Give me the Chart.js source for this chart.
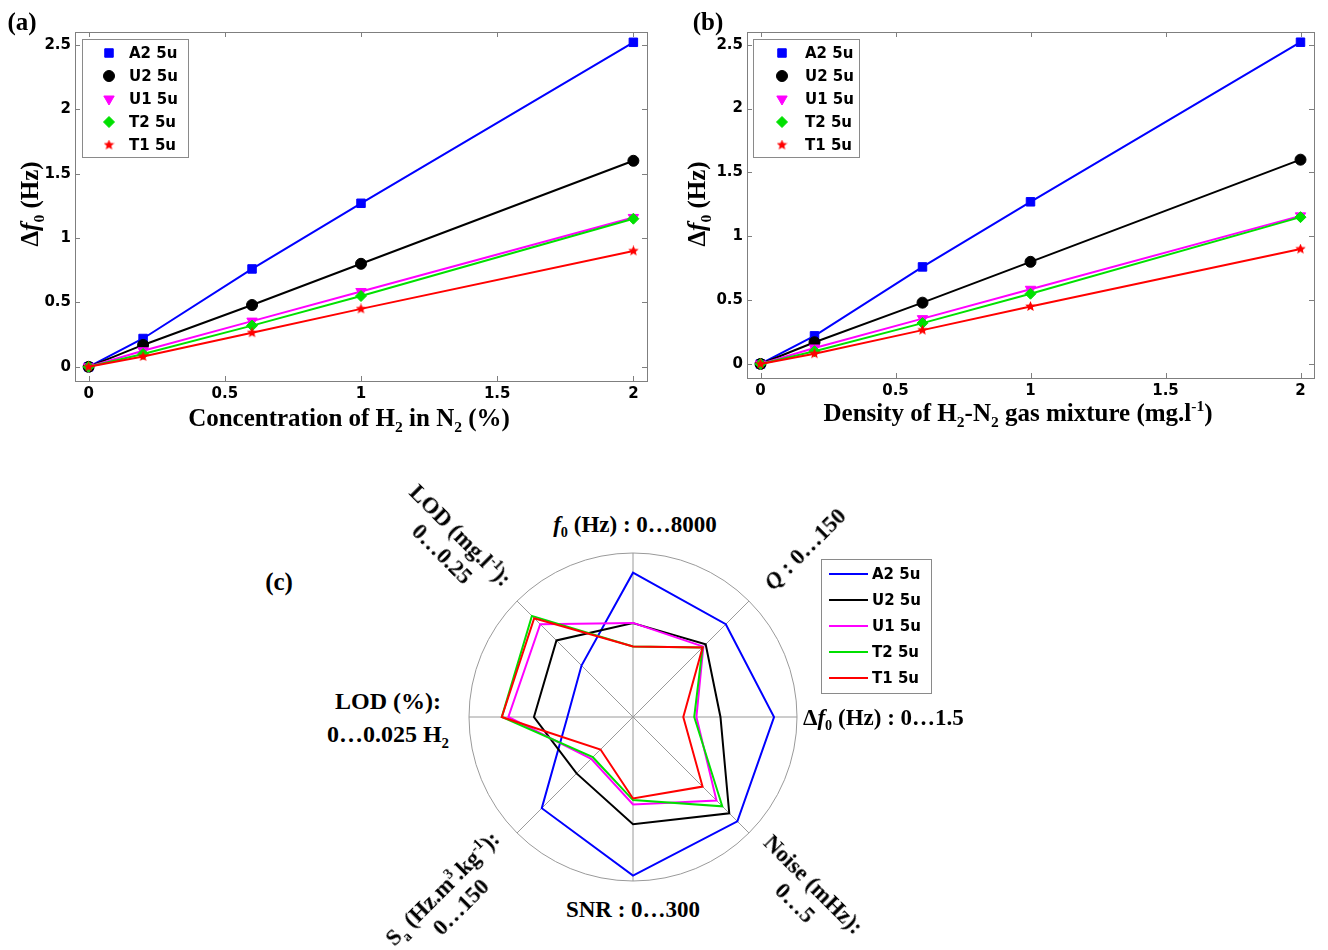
<!DOCTYPE html>
<html>
<head>
<meta charset="utf-8">
<script src="https://cdn.jsdelivr.net/npm/chart.js@4.4.1/dist/chart.umd.min.js"></script>
<style>
  body { margin: 0; background: #fff; }
  #page { position: relative; width: 1328px; height: 950px; overflow: hidden; background: #fff;
          font-family: "Liberation Serif", "Times New Roman", serif; color: #000; }
  canvas { position: absolute; }
  .t { position: absolute; font-weight: bold; font-size: 25px; white-space: nowrap; line-height: 1;
       transform: translate(-50%, -50%); text-align: center; }
  .t sub, .t sup { font-size: 0.62em; line-height: 0; }
</style>
</head>
<body>
<div id="page">
  <canvas id="chartA" width="660" height="440" style="left:0;top:0"></canvas>
  <canvas id="chartB" width="668" height="440" style="left:660px;top:0"></canvas>
  <canvas id="chartC" width="500" height="330" style="left:468px;top:552px"></canvas>

  <div class="t" style="left:22px;top:21px">(a)</div>
  <div class="t" style="left:708px;top:21px">(b)</div>
  <div class="t" style="left:279px;top:581px">(c)</div>

  <div class="t" style="left:29px;top:204px;transform:translate(-50%,-50%) rotate(-90deg)">&Delta;<i>f</i><sub>0</sub> (Hz)</div>
  <div class="t" style="left:696px;top:204px;transform:translate(-50%,-50%) rotate(-90deg)">&Delta;<i>f</i><sub>0</sub> (Hz)</div>
  <div class="t" style="left:349px;top:417px">Concentration of H<sub>2</sub> in N<sub>2</sub> (%)</div>
  <div class="t" style="left:1018px;top:412px">Density of H<sub>2</sub>-N<sub>2</sub> gas mixture (mg.l<sup>-1</sup>)</div>

  <div class="t" style="left:635px;top:524px;font-size:23px"><i>f</i><sub>0</sub> (Hz) : 0&hellip;8000</div>
  <div class="t" style="left:805px;top:549px;font-size:23px;transform:translate(-50%,-50%) rotate(-45deg)"><i>Q</i> : 0&hellip;150</div>
  <div class="t" style="left:803px;top:717px;font-size:23px;transform:translate(0,-50%)">&Delta;<i>f</i><sub>0</sub> (Hz) : 0&hellip;1.5</div>
  <div class="t" style="left:804px;top:894px;font-size:23px;line-height:26px;transform:translate(-50%,-50%) rotate(45deg)">Noise (mHz):<br>0&hellip;5</div>
  <div class="t" style="left:633px;top:909px;font-size:23px">SNR : 0&hellip;300</div>
  <div class="t" style="left:452px;top:898px;font-size:23px;line-height:26px;transform:translate(-50%,-50%) rotate(-45deg)">S<sub>a</sub> (Hz.m<sup>3</sup>.kg<sup>-1</sup>):<br>0&hellip;150</div>
  <div class="t" style="left:388px;top:718px;font-size:24px;line-height:33px">LOD (%):<br>0&hellip;0.025 H<sub>2</sub></div>
  <div class="t" style="left:451px;top:545px;font-size:23px;line-height:26px;transform:translate(-50%,-50%) rotate(45deg)">LOD (mg.l<sup>-1</sup>):<br>0&hellip;0.25</div>
</div>

<script>
// ---- data ----
const seriesNames = ['A2 5u', 'U2 5u', 'U1 5u', 'T2 5u', 'T1 5u'];

// (a) and (b): frequency shift vs. H2 concentration / density
const concentration = [0, 0.2, 0.6, 1, 2];
const density = [0, 0.2, 0.6, 1, 2];
const a2 = [0, 0.22, 0.76, 1.27, 2.52];
const u2 = [0, 0.17, 0.48, 0.80, 1.60];
const u1 = [0, 0.125, 0.355, 0.585, 1.16];
const t2 = [0, 0.10, 0.32, 0.55, 1.15];
const t1 = [0, 0.08, 0.265, 0.45, 0.90];
const xTicks = [0, 0.5, 1, 1.5, 2];
const yTicks = [0, 0.5, 1, 1.5, 2, 2.5];

// (c): radar, one value per axis, axis ranges 0..max
const radarAxes = ['f0 (Hz)', 'Q', 'Δf0 (Hz)', 'Noise (mHz)', 'SNR', 'Sa (Hz.m3.kg-1)', 'LOD (%)', 'LOD (mg.l-1)'];
const radarMax = [8000, 150, 1.5, 5, 300, 150, 0.025, 0.25];
const radarA2 = [7040, 120, 1.29, 4.5, 290, 118, 0.0100, 0.111];
const radarU2 = [4580, 94, 0.80, 4.15, 196, 73, 0.0151, 0.165];
const radarU1 = [4590, 91, 0.58, 3.6, 160, 54, 0.0190, 0.200];
const radarT2 = [3440, 90, 0.56, 3.85, 152, 52, 0.0200, 0.218];
const radarT1 = [3440, 90, 0.46, 3.0, 149, 42, 0.0200, 0.213];

// ---- styles ----
const colors = ['#0000ff', '#000000', '#ff00ff', '#00e000', '#ff0000'];

function starImage(color, size) {
  const c = document.createElement('canvas');
  c.width = c.height = size;
  const g = c.getContext('2d');
  g.fillStyle = color;
  g.beginPath();
  const ro = size / 2, ri = ro * 0.45;
  for (let i = 0; i < 10; i++) {
    const r = i % 2 ? ri : ro;
    const ang = -Math.PI / 2 + i * Math.PI / 5;
    g.lineTo(ro + r * Math.cos(ang), ro + r * Math.sin(ang));
  }
  g.closePath();
  g.fill();
  return c;
}

const markers = [
  { pointStyle: 'rect', radius: 6, rotation: 0 },
  { pointStyle: 'circle', radius: 5.5, rotation: 0 },
  { pointStyle: 'triangle', radius: 6, rotation: 180 },
  { pointStyle: 'rectRot', radius: 5.5, rotation: 0 },
  { pointStyle: starImage('#ff0000', 11), radius: 5.5, rotation: 0 }
];

const tickFont = { family: 'DejaVu Sans', weight: 'bold', size: 15 };
const legendFont = 'bold 15px "DejaVu Sans"';

function drawMarker(ctx, m, x, y, color) {
  ctx.save();
  ctx.fillStyle = color;
  ctx.strokeStyle = color;
  ctx.lineWidth = 1;
  Chart.helpers.drawPoint(ctx, { pointStyle: m.pointStyle, radius: m.radius, rotation: m.rotation, borderWidth: 1 }, x, y);
  ctx.restore();
}

// legend drawn inside the figure, entries taken from the datasets
function boxLegend(opt) {
  return {
    id: 'boxLegend',
    afterDraw(chart) {
      const ctx = chart.ctx;
      ctx.save();
      ctx.fillStyle = '#fff';
      ctx.fillRect(opt.x, opt.y, opt.w, opt.h);
      ctx.strokeStyle = '#8a8a8a';
      ctx.lineWidth = 1;
      ctx.strokeRect(opt.x + 0.5, opt.y + 0.5, opt.w, opt.h);
      chart.data.datasets.forEach((ds, i) => {
        const y = opt.rowY + i * opt.dy;
        if (opt.lines) {
          ctx.strokeStyle = ds.borderColor;
          ctx.lineWidth = 2;
          ctx.beginPath();
          ctx.moveTo(opt.lx0, y);
          ctx.lineTo(opt.lx1, y);
          ctx.stroke();
        } else {
          drawMarker(ctx, markers[i], opt.mx, y, ds.borderColor);
        }
        ctx.fillStyle = '#000';
        ctx.font = legendFont;
        ctx.textBaseline = 'middle';
        ctx.textAlign = 'left';
        ctx.fillText(ds.label, opt.tx, y + 1);
      });
      ctx.restore();
    }
  };
}

// box around the plot with inward tick marks
const boxTicks = {
  id: 'boxTicks',
  beforeDatasetsDraw(chart) {
    const { ctx, chartArea: a, scales: { x, y } } = chart;
    ctx.save();
    ctx.strokeStyle = '#7f7f7f';
    ctx.lineWidth = 1;
    ctx.strokeRect(a.left + 0.5, a.top + 0.5, a.width, a.height);
    ctx.beginPath();
    x.ticks.forEach(t => {
      const px = Math.round(x.getPixelForValue(t.value)) + 0.5;
      ctx.moveTo(px, a.bottom); ctx.lineTo(px, a.bottom - 5);
      ctx.moveTo(px, a.top); ctx.lineTo(px, a.top + 5);
    });
    y.ticks.forEach(t => {
      const py = Math.round(y.getPixelForValue(t.value)) + 0.5;
      ctx.moveTo(a.left, py); ctx.lineTo(a.left + 5, py);
      ctx.moveTo(a.right, py); ctx.lineTo(a.right - 5, py);
    });
    ctx.stroke();
    ctx.restore();
  }
};

function lineDatasets(xs) {
  return [a2, u2, u1, t2, t1].map((vals, i) => ({
    label: seriesNames[i],
    data: xs.map((x, j) => ({ x: x, y: vals[j] })),
    borderColor: colors[i],
    backgroundColor: colors[i],
    borderWidth: 2,
    pointStyle: markers[i].pointStyle,
    pointRadius: markers[i].radius,
    pointRotation: markers[i].rotation,
    pointBorderWidth: 1,
    tension: 0,
    order: 5 - i
  }));
}

function lineChart(id, xs, pad, yWidth, xHeight, legend) {
  return new Chart(document.getElementById(id), {
    type: 'line',
    data: { datasets: lineDatasets(xs) },
    options: {
      responsive: false,
      animation: false,
      layout: { padding: pad },
      plugins: { legend: { display: false }, tooltip: { enabled: false } },
      scales: {
        x: {
          type: 'linear', min: -0.05, max: 2.05,
          grid: { display: false, drawTicks: false }, border: { display: false },
          afterBuildTicks: s => { s.ticks = xTicks.map(v => ({ value: v })); },
          afterFit: s => { s.height = xHeight; },
          ticks: { color: '#000', font: tickFont, padding: 4, maxRotation: 0, callback: v => String(v) }
        },
        y: {
          min: -0.11, max: 2.6,
          grid: { display: false, drawTicks: false }, border: { display: false },
          afterBuildTicks: s => { s.ticks = yTicks.map(v => ({ value: v })); },
          afterFit: s => { s.width = yWidth; },
          ticks: { color: '#000', font: tickFont, padding: 4, callback: v => String(v) }
        }
      }
    },
    plugins: [boxTicks, boxLegend(legend)]
  });
}

lineChart('chartA', concentration, { left: 0, top: 32, right: 13, bottom: 0 }, 75, 59,
  { x: 82, y: 39, w: 106, h: 118, mx: 109, tx: 129, rowY: 53, dy: 23 });
lineChart('chartB', density, { left: 0, top: 32, right: 14, bottom: 0 }, 87, 62,
  { x: 93, y: 39, w: 106, h: 118, mx: 122, tx: 145, rowY: 53, dy: 23 });

// radar, each axis scaled to its own range
const radarSets = [radarA2, radarU2, radarU1, radarT2, radarT1];
new Chart(document.getElementById('chartC'), {
  type: 'radar',
  data: {
    labels: radarAxes,
    datasets: radarSets.map((vals, i) => ({
      label: seriesNames[i],
      data: vals.map((v, j) => v / radarMax[j]),
      borderColor: colors[i],
      backgroundColor: colors[i],
      borderWidth: 2,
      pointRadius: 0,
      fill: false,
      tension: 0,
      order: 5 - i
    }))
  },
  options: {
    responsive: false,
    animation: false,
    layout: { padding: { left: 1, top: 1, bottom: 1, right: 171 } },
    plugins: { legend: { display: false }, tooltip: { enabled: false } },
    scales: {
      r: {
        min: 0, max: 1,
        ticks: { display: false, stepSize: 1 },
        grid: { circular: true, color: '#9a9a9a', lineWidth: 1 },
        angleLines: { color: '#9a9a9a', lineWidth: 1 },
        pointLabels: { display: false }
      }
    }
  },
  plugins: [boxLegend({ x: 353, y: 7, w: 110, h: 134, lines: true, lx0: 361, lx1: 400, tx: 404, rowY: 22, dy: 26 })]
});
</script>
</body>
</html>
